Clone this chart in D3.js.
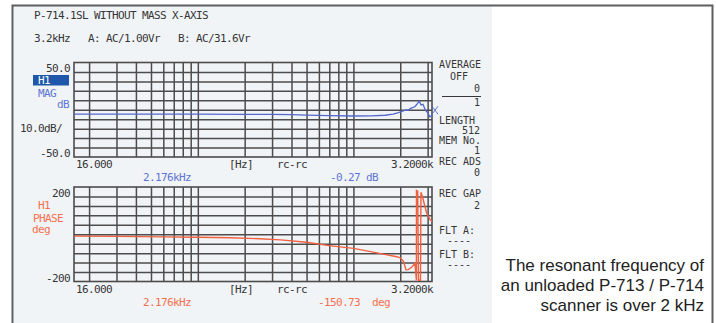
<!DOCTYPE html>
<html><head><meta charset="utf-8">
<script src="https://cdn.jsdelivr.net/npm/d3@7"></script>
<style>body{margin:0;background:#fff}svg{display:block}</style>
</head><body>
<script>
// ---------- data ----------
const freqDomain = [16, 3200];
const gridFreqs = [20,30,40,50,60,70,80,90,100,200,300,400,500,600,700,800,900,1000,2000,3000];
const magDomain = [-50, 50];
const magGrid = [-40,-30,-20,-10,0,10,20,30,40];
const phaseDomain = [-200, 200];
const phaseGrid = [-160,-120,-80,-40,0,40,80,120,160];

const magFreq = [16,30,60,100,200,300,400,500,700,1000,1300,1600,1800,1950,2050,2176,2250,2330,2400,2480,2560,2650,2720,2800,2900,3000,3100,3200];
const magDb   = [-4.6,-4.6,-4.7,-4.7,-4.8,-4.9,-5.1,-5.6,-6.3,-6.6,-6.5,-5.8,-4.6,-3.0,-1.8,-0.27,-0.5,1.5,2.2,3.2,5.8,9.3,5.0,5.8,-0.3,-3.0,-7.4,-6.0];
const magEndMark = [3200, -0.5];

const phaseFreq = [16,30,60,100,160,250,340,500,700,1000,1150,1500,1900,2000,2100,2176,2250,2368,2487,2540,2542,2590,2619,2700,2718,2760,2813,2957,3106,3200];
const phaseDeg  = [-8,-9,-11,-13,-15,-19,-24,-34,-48,-60,-67,-82,-95,-100,-115,-150.73,-150,-140,-123,-195,185,182,-195,-195,178,165,145,89,63,53];

const headerLines = ["P-714.1SL WITHOUT MASS X-AXIS", "3.2kHz   A: AC/1.00Vr   B: AC/31.6Vr"];
const magLabels = {top: "50.0", bottom: "-50.0", scale: "10.0dB/", trace: "H1", kind: "MAG", unit: "dB"};
const phaseLabels = {top: "200", bottom: "-200", trace: "H1", kind: "PHASE", unit: "deg"};
const xLabels = ["16.000", "[Hz]", "rc-rc", "3.2000k"];
const magMarker = ["2.176kHz", "-0.27 dB"];
const phaseMarker = ["2.176kHz", "-150.73  deg"];
const statusLines = [
  ["AVERAGE","l",68],["OFF","c",80],["0","r",92],["1","r",106],
  ["LENGTH","l",124],["512","r",134],["MEM No.","l",144],["1","r",154],
  ["REC ADS","l",165],["0","r",176],["REC GAP","l",197],["2","r",209],
  ["FLT A:","l",234],["----","c",244],["FLT B:","l",258],["----","c",268]
];
const caption = ["The resonant frequency of","an unloaded P-713 / P-714","scanner is over 2 kHz"];

// ---------- layout ----------
const W = 716, H = 323;
const plotL = 74, plotR = 432;
const magT = 62.5, magB = 157;
const phT = 187, phB = 281.5;
const ink = "#363636", gridCol = "#4c4c4c", blue = "#5468cc", blueTxt = "#5f74d4", red = "#f2603f", redTxt = "#f3704f";
const mono = "'DejaVu Sans Mono', 'Liberation Mono', monospace";

const svg = d3.select("body").append("svg").attr("width", W).attr("height", H);

// screenshot background + frame
svg.append("rect").attr("x", 14).attr("y", 6).attr("width", 478).attr("height", H - 6).attr("fill", "#f1f4f7");
svg.append("path").attr("d", `M12.5,${H} V5.5 H712.5 V${H}`).attr("fill", "none").attr("stroke", "#5e5e5e").attr("stroke-width", 2);

const x = d3.scaleLog().domain(freqDomain).range([plotL, plotR]);
const yMag = d3.scaleLinear().domain(magDomain).range([magB, magT]);
const yPh = d3.scaleLinear().domain(phaseDomain).range([phB, phT]);

function txt(s, px, py, opt = {}) {
  return svg.append("text").attr("x", px).attr("y", py).text(s)
    .attr("font-family", opt.font || mono).attr("font-size", opt.size || 11)
    .attr("letter-spacing", opt.ls != null ? opt.ls : -0.62)
    .attr("text-anchor", opt.anchor || "start")
    .attr("fill", opt.fill || ink)
    .style("white-space", "pre");
}

function drawGrid(yScale, gridVals, top, bottom) {
  const gx = svg.append("g").attr("transform", `translate(0,${bottom})`)
    .call(d3.axisBottom(x).tickValues(gridFreqs).tickSize(-(bottom - top)).tickFormat(""));
  const gy = svg.append("g").attr("transform", `translate(${plotL},0)`)
    .call(d3.axisLeft(yScale).tickValues(gridVals).tickSize(-(plotR - plotL)).tickFormat(""));
  [gx, gy].forEach(g => {
    g.select(".domain").remove();
    g.selectAll("line").attr("stroke", gridCol).attr("stroke-width", 1.5);
  });
  svg.append("rect").attr("x", plotL).attr("y", top).attr("width", plotR - plotL).attr("height", bottom - top)
    .attr("fill", "none").attr("stroke", gridCol).attr("stroke-width", 1.6);
}

// clip paths
const defs = svg.append("defs");
defs.append("clipPath").attr("id", "clipMag").append("rect").attr("x", plotL).attr("y", magT).attr("width", plotR - plotL + 1).attr("height", magB - magT);
defs.append("clipPath").attr("id", "clipPh").append("rect").attr("x", plotL).attr("y", phT).attr("width", plotR - plotL + 1).attr("height", phB - phT);

// ---------- magnitude plot ----------
drawGrid(yMag, magGrid, magT, magB);
const magData = magFreq.map((f, i) => [f, magDb[i]]);
svg.append("path").datum(magData).attr("clip-path", "url(#clipMag)")
  .attr("d", d3.line().x(d => x(d[0])).y(d => yMag(d[1])))
  .attr("fill", "none").attr("stroke", blue).attr("stroke-width", 1.3);
// end marker (small x)
const mx = x(magEndMark[0]) + 3, my = yMag(magEndMark[1]);
svg.append("path").attr("d", `M${mx - 3},${my - 4} L${mx + 3},${my + 4} M${mx - 3},${my + 4} L${mx + 3},${my - 4}`)
  .attr("fill", "none").attr("stroke", blue).attr("stroke-width", 0.9);

txt(magLabels.top, 70, yMag(magDomain[1]) + 9.5, {anchor: "end"});
txt(magLabels.bottom, 70, yMag(magDomain[0]) - 0.5, {anchor: "end"});
txt(magLabels.scale, 20, 132);
svg.append("rect").attr("x", 33).attr("y", 75).attr("width", 36).attr("height", 10.5).attr("fill", "#1f58ab");
txt(magLabels.trace, 38, 84, {fill: "#ffffff"});
txt(magLabels.kind, 38, 96.5, {fill: blueTxt});
txt(magLabels.unit, 69, 108, {fill: blueTxt, anchor: "end"});

txt(xLabels[0], 76, 168);
txt(xLabels[1], 229, 168);
txt(xLabels[2], 277, 168);
txt(xLabels[3], plotR + 1, 168, {anchor: "end"});
txt(magMarker[0], 143, 180.5, {fill: blueTxt});
txt(magMarker[1], 330, 180.5, {fill: blueTxt});

// ---------- phase plot ----------
drawGrid(yPh, phaseGrid, phT, phB);
const phData = phaseFreq.map((f, i) => [f, phaseDeg[i]]);
svg.append("path").datum(phData).attr("clip-path", "url(#clipPh)")
  .attr("d", d3.line().x(d => x(d[0])).y(d => yPh(d[1])))
  .attr("fill", "none").attr("stroke", red).attr("stroke-width", 1.4);

txt(phaseLabels.top, 70, yPh(phaseDomain[1]) + 10, {anchor: "end"});
txt(phaseLabels.bottom, 70, yPh(phaseDomain[0]), {anchor: "end"});
txt(phaseLabels.trace, 38, 209, {fill: redTxt});
txt(phaseLabels.kind, 33, 221.5, {fill: redTxt});
txt(phaseLabels.unit, 32, 233, {fill: redTxt});

txt(xLabels[0], 76, 293);
txt(xLabels[1], 229, 293);
txt(xLabels[2], 277, 293);
txt(xLabels[3], plotR + 1, 293, {anchor: "end"});
txt(phaseMarker[0], 143, 305.5, {fill: redTxt});
txt(phaseMarker[1], 318, 305.5, {fill: redTxt});

// ---------- header ----------
txt(headerLines[0], 34, 19);
txt(headerLines[1], 34, 41.5);

// ---------- status panel ----------
statusLines.forEach(([s, a, yy]) => {
  txt(s, a === "l" ? 439 : a === "c" ? 459 : 480, yy,
      {size: 10, ls: 0, anchor: a === "l" ? "start" : a === "c" ? "middle" : "end"});
});
svg.append("line").attr("x1", 442).attr("x2", 481).attr("y1", 96.5).attr("y2", 96.5).attr("stroke", ink).attr("stroke-width", 1);

// ---------- caption ----------
caption.forEach((s, i) => {
  svg.append("text").attr("x", 704).attr("y", 271 + i * 20).attr("text-anchor", "end")
    .attr("font-family", "'Liberation Sans', Arial, sans-serif").attr("font-size", 17)
    .attr("fill", "#222").text(s);
});
</script>
</body></html>
